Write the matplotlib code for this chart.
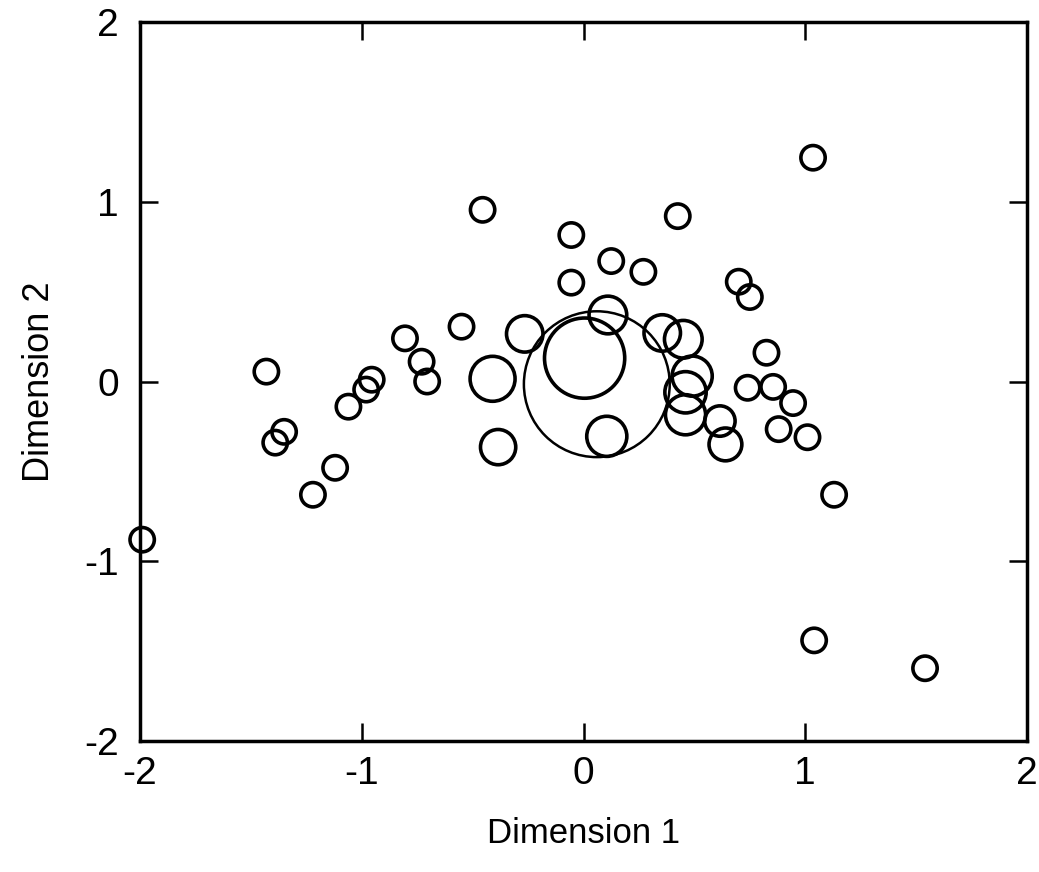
import matplotlib
matplotlib.use("Agg")
import matplotlib.pyplot as plt
import numpy as np

plt.rcParams['font.family'] = ['Liberation Sans', 'DejaVu Sans']
plt.rcParams['axes.unicode_minus'] = False

# Coordinates on the two dimensions and the relative weight of each point
dim1 = [-1.99, -1.43, -1.35, -1.39, -1.12, -1.22, -1.06, -0.98, -0.955, -0.805,
        -0.73, -0.705, -0.55, -0.455, -0.055, -0.055, 0.125, 0.27, 0.425, 0.70,
        0.75, 0.825, 0.74, 0.855, 0.945, 0.88, 1.01, 1.13, 1.035, 1.04, 1.54,
        -0.265, -0.41, -0.385, 0.11, 0.005, 0.06, 0.105, 0.355, 0.45, 0.49,
        0.46, 0.46, 0.615, 0.64]
dim2 = [-0.88, 0.055, -0.28, -0.34, -0.48, -0.63, -0.14, -0.045, 0.01, 0.24,
        0.11, 0.0, 0.305, 0.955, 0.815, 0.55, 0.67, 0.61, 0.92, 0.555,
        0.47, 0.16, -0.035, -0.03, -0.12, -0.265, -0.31, -0.63, 1.245, -1.44, -1.595,
        0.265, 0.015, -0.365, 0.37, 0.13, -0.015, -0.305, 0.27, 0.235, 0.03,
        -0.06, -0.185, -0.22, -0.35]
weight = [1.0, 1.0, 1.0, 1.0, 1.0, 1.0, 1.0, 1.0, 1.0, 1.0,
          1.0, 1.0, 1.0, 1.0, 1.0, 1.0, 1.0, 1.0, 1.0, 1.0,
          1.0, 1.0, 1.0, 1.0, 1.0, 1.0, 1.0, 1.0, 1.0, 1.0, 1.0,
          1.5, 1.85, 1.45, 1.55, 3.3, 6.0, 1.65, 1.5, 1.55, 1.65,
          1.7, 1.65, 1.25, 1.35]

x_ticks = [-2, -1, 0, 1, 2]
y_ticks = [-2, -1, 0, 1, 2]

fig = plt.figure(figsize=(10.39, 8.72), dpi=100)
ax = fig.add_axes([0.1347, 0.1502, 0.8538, 0.8246])

# marker diameter in points grows linearly with the weight
base_diam = 17.5
w = np.asarray(weight)
sizes = (base_diam * w) ** 2
lw = np.where(w > 4, 1.8, 2.6)
ax.scatter(dim1, dim2, s=sizes, facecolors='none', edgecolors='black',
           linewidths=lw, clip_on=False, zorder=3)

ax.set_xlim(-2, 2)
ax.set_ylim(-2, 2)
ax.set_xticks(x_ticks)
ax.set_yticks(y_ticks)
ax.set_xticklabels([str(t) for t in x_ticks])
ax.set_yticklabels([str(t) for t in y_ticks])

for sp in ax.spines.values():
    sp.set_linewidth(2.5)

ax.tick_params(direction='in', length=13, width=1.8, top=True, right=True,
               labelsize=28)
ax.tick_params(axis='x', pad=11)
ax.tick_params(axis='y', pad=15)

ax.set_xlabel('Dimension 1', fontsize=25, labelpad=18)
ax.set_ylabel('Dimension 2', fontsize=26, labelpad=20)

fig.savefig('out.png', dpi=100)
